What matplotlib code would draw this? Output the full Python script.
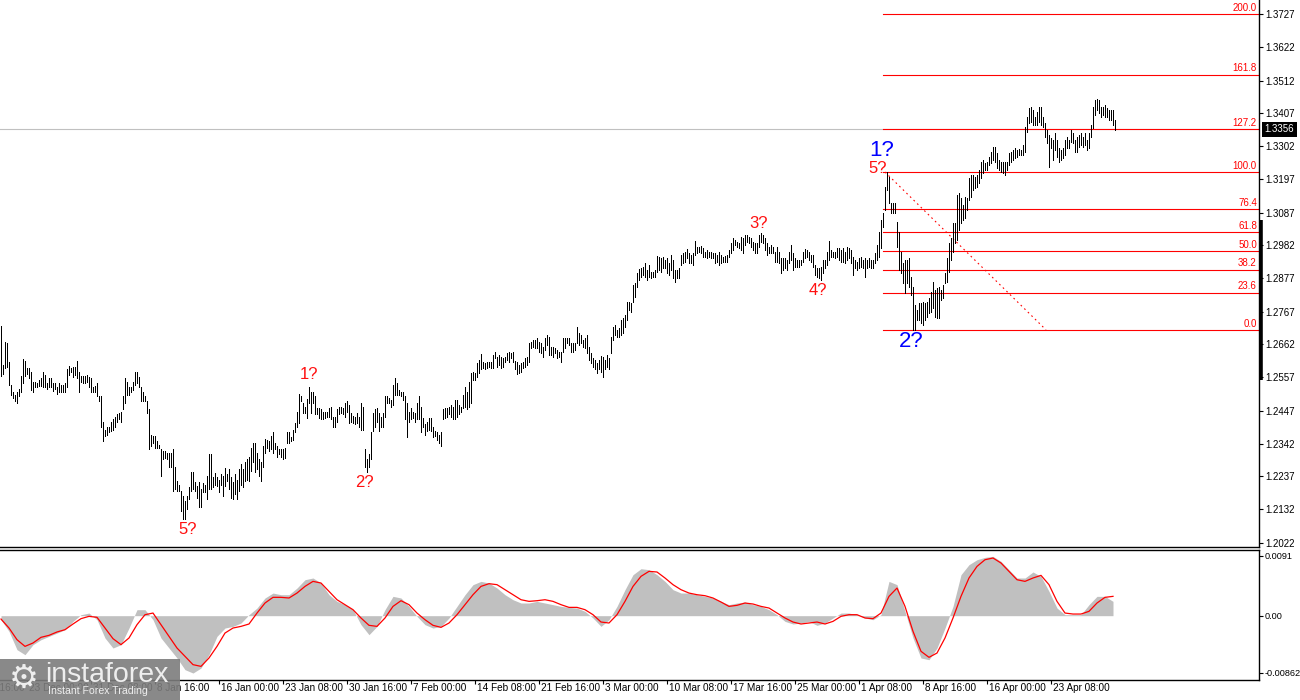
import numpy as np
import matplotlib
matplotlib.use("Agg")
import matplotlib.pyplot as plt
from matplotlib.patches import Rectangle

plt.rcParams['font.family'] = ['Liberation Sans', 'DejaVu Sans']

# ---------------- data: H4 bars (high / low) ----------------
HIGH = [
    1.2722,1.2597,1.2671,1.2668,1.2606,1.2532,1.2507,1.2500,1.2507,1.2519,
    1.2561,1.2616,1.2610,1.2587,1.2587,1.2574,1.2542,1.2542,1.2539,1.2548,
    1.2552,1.2574,1.2564,1.2539,1.2552,1.2552,1.2539,1.2539,1.2526,1.2539,
    1.2532,1.2532,1.2539,1.2581,1.2593,1.2587,1.2590,1.2590,1.2610,1.2574,
    1.2561,1.2561,1.2561,1.2564,1.2558,1.2555,1.2526,1.2529,1.2539,1.2494,
    1.2494,1.2413,1.2387,1.2394,1.2397,1.2413,1.2420,1.2429,1.2436,1.2442,
    1.2445,1.2494,1.2555,1.2542,1.2523,1.2526,1.2542,1.2574,1.2574,1.2558,
    1.2526,1.2507,1.2494,1.2478,1.2452,1.2371,1.2365,1.2365,1.2349,1.2339,
    1.2323,1.2317,1.2317,1.2313,1.2313,1.2313,1.2323,1.2265,1.2220,1.2210,
    1.2188,1.2172,1.2156,1.2172,1.2201,1.2249,1.2249,1.2217,1.2204,1.2217,
    1.2194,1.2214,1.2210,1.2239,1.2307,1.2307,1.2233,1.2246,1.2233,1.2226,
    1.2243,1.2236,1.2262,1.2243,1.2259,1.2233,1.2217,1.2243,1.2226,1.2259,
    1.2275,1.2259,1.2284,1.2291,1.2300,1.2329,1.2345,1.2345,1.2313,1.2291,
    1.2281,1.2333,1.2358,1.2355,1.2349,1.2365,1.2378,1.2345,1.2333,1.2323,
    1.2323,1.2323,1.2329,1.2378,1.2378,1.2362,1.2387,1.2410,1.2445,1.2503,
    1.2494,1.2474,1.2461,1.2487,1.2526,1.2510,1.2507,1.2497,1.2458,1.2458,
    1.2452,1.2445,1.2445,1.2445,1.2458,1.2461,1.2429,1.2429,1.2452,1.2461,
    1.2461,1.2458,1.2474,1.2478,1.2468,1.2442,1.2432,1.2429,1.2442,1.2429,
    1.2474,1.2461,1.2323,1.2291,1.2307,1.2378,1.2442,1.2452,1.2458,1.2442,
    1.2429,1.2442,1.2494,1.2494,1.2490,1.2484,1.2532,1.2552,1.2539,1.2516,
    1.2510,1.2510,1.2494,1.2474,1.2445,1.2458,1.2445,1.2442,1.2474,1.2494,
    1.2461,1.2426,1.2404,1.2413,1.2426,1.2426,1.2394,1.2381,1.2378,1.2371,
    1.2378,1.2452,1.2458,1.2458,1.2461,1.2468,1.2461,1.2484,1.2484,1.2468,
    1.2461,1.2500,1.2523,1.2507,1.2542,1.2571,1.2574,1.2571,1.2603,1.2613,
    1.2632,1.2606,1.2603,1.2606,1.2606,1.2606,1.2629,1.2639,1.2622,1.2629,
    1.2622,1.2619,1.2622,1.2635,1.2639,1.2635,1.2639,1.2610,1.2606,1.2597,
    1.2603,1.2606,1.2619,1.2622,1.2667,1.2671,1.2677,1.2677,1.2684,1.2671,
    1.2667,1.2655,1.2684,1.2693,1.2687,1.2655,1.2655,1.2651,1.2645,1.2639,
    1.2639,1.2684,1.2684,1.2684,1.2684,1.2667,1.2667,1.2667,1.2719,1.2700,
    1.2693,1.2677,1.2684,1.2693,1.2655,1.2635,1.2619,1.2613,1.2603,1.2613,
    1.2626,1.2622,1.2613,1.2629,1.2619,1.2687,1.2719,1.2726,1.2709,1.2716,
    1.2742,1.2748,1.2758,1.2800,1.2800,1.2796,1.2854,1.2861,1.2893,1.2906,
    1.2909,1.2912,1.2925,1.2903,1.2919,1.2896,1.2896,1.2903,1.2948,1.2944,
    1.2941,1.2944,1.2935,1.2941,1.2925,1.2951,1.2935,1.2903,1.2903,1.2909,
    1.2951,1.2957,1.2961,1.2970,1.2957,1.2951,1.2957,1.2996,1.2977,1.2977,
    1.2980,1.2973,1.2961,1.2967,1.2961,1.2961,1.2957,1.2957,1.2951,1.2961,
    1.2951,1.2944,1.2948,1.2951,1.2967,1.2990,1.3006,1.2999,1.2993,1.2990,
    1.3009,1.3006,1.3015,1.3015,1.3009,1.3006,1.2993,1.2990,1.2990,1.3015,
    1.3022,1.3015,1.3006,1.2990,1.2977,1.2983,1.2977,1.2961,1.2977,1.2961,
    1.2941,1.2941,1.2941,1.2935,1.2961,1.2983,1.2957,1.2941,1.2935,1.2935,
    1.2935,1.2961,1.2970,1.2967,1.2961,1.2951,1.2951,1.2919,1.2909,1.2909,
    1.2912,1.2935,1.2935,1.2961,1.2996,1.2967,1.2961,1.2961,1.2973,1.2973,
    1.2967,1.2973,1.2961,1.2977,1.2973,1.2967,1.2944,1.2935,1.2928,1.2941,
    1.2944,1.2935,1.2941,1.2935,1.2941,1.2935,1.2935,1.2957,1.2983,1.3025,
    1.3064,1.3086,1.3170,1.3218,1.3202,1.3118,1.3118,1.3118,1.3057,1.3025,
    1.2961,1.2925,1.2935,1.2935,1.2941,1.2880,1.2848,1.2790,1.2774,1.2796,
    1.2796,1.2800,1.2796,1.2800,1.2812,1.2832,1.2864,1.2838,1.2845,1.2848,
    1.2838,1.2854,1.2893,1.2941,1.2990,1.3006,1.3054,1.3054,1.3144,1.3151,
    1.3134,1.3112,1.3138,1.3134,1.3199,1.3209,1.3209,1.3202,1.3209,1.3225,
    1.3250,1.3257,1.3247,1.3250,1.3266,1.3283,1.3299,1.3299,1.3279,1.3257,
    1.3250,1.3250,1.3250,1.3250,1.3279,1.3283,1.3289,1.3295,1.3289,1.3292,
    1.3289,1.3305,1.3363,1.3395,1.3424,1.3427,1.3418,1.3395,1.3411,1.3427,
    1.3427,1.3395,1.3376,1.3353,1.3337,1.3328,1.3321,1.3344,1.3321,1.3295,
    1.3289,1.3295,1.3321,1.3331,1.3321,1.3353,1.3344,1.3321,1.3331,1.3337,
    1.3344,1.3331,1.3344,1.3321,1.3344,1.3370,1.3427,1.3450,1.3453,1.3450,
    1.3427,1.3427,1.3434,1.3424,1.3418,1.3418,1.3418,1.3386,
]
LOW = [
    1.2561,1.2565,1.2587,1.2590,1.2532,1.2500,1.2490,1.2478,1.2474,1.2494,
    1.2507,1.2539,1.2561,1.2565,1.2555,1.2516,1.2510,1.2523,1.2526,1.2529,
    1.2529,1.2523,1.2526,1.2519,1.2526,1.2526,1.2513,1.2519,1.2503,1.2510,
    1.2510,1.2510,1.2507,1.2526,1.2564,1.2574,1.2558,1.2564,1.2552,1.2507,
    1.2542,1.2539,1.2539,1.2542,1.2523,1.2507,1.2507,1.2507,1.2494,1.2478,
    1.2397,1.2349,1.2365,1.2371,1.2378,1.2381,1.2387,1.2397,1.2413,1.2420,
    1.2413,1.2452,1.2474,1.2500,1.2500,1.2507,1.2516,1.2532,1.2539,1.2526,
    1.2478,1.2478,1.2478,1.2442,1.2323,1.2333,1.2345,1.2329,1.2329,1.2329,
    1.2236,1.2291,1.2297,1.2291,1.2268,1.2265,1.2188,1.2194,1.2188,1.2188,
    1.2123,1.2098,1.2098,1.2130,1.2162,1.2188,1.2194,1.2188,1.2168,1.2136,
    1.2139,1.2185,1.2185,1.2162,1.2194,1.2194,1.2201,1.2210,1.2204,1.2185,
    1.2210,1.2172,1.2204,1.2220,1.2194,1.2168,1.2162,1.2178,1.2162,1.2188,
    1.2210,1.2201,1.2220,1.2226,1.2220,1.2252,1.2281,1.2249,1.2259,1.2236,
    1.2220,1.2268,1.2313,1.2329,1.2317,1.2323,1.2313,1.2323,1.2300,1.2307,
    1.2300,1.2291,1.2297,1.2345,1.2345,1.2349,1.2355,1.2378,1.2397,1.2410,
    1.2478,1.2442,1.2442,1.2426,1.2474,1.2442,1.2474,1.2436,1.2436,1.2426,
    1.2420,1.2420,1.2426,1.2429,1.2429,1.2420,1.2394,1.2397,1.2413,1.2436,
    1.2442,1.2436,1.2429,1.2445,1.2410,1.2413,1.2410,1.2404,1.2410,1.2397,
    1.2387,1.2387,1.2265,1.2249,1.2265,1.2291,1.2381,1.2397,1.2413,1.2381,
    1.2394,1.2397,1.2429,1.2474,1.2474,1.2461,1.2468,1.2500,1.2500,1.2500,
    1.2494,1.2484,1.2420,1.2362,1.2413,1.2420,1.2426,1.2413,1.2420,1.2420,
    1.2378,1.2394,1.2371,1.2381,1.2387,1.2381,1.2362,1.2365,1.2355,1.2345,
    1.2333,1.2420,1.2426,1.2429,1.2436,1.2429,1.2420,1.2420,1.2429,1.2436,
    1.2445,1.2458,1.2461,1.2452,1.2461,1.2474,1.2548,1.2548,1.2558,1.2571,
    1.2581,1.2587,1.2581,1.2587,1.2590,1.2587,1.2587,1.2619,1.2590,1.2597,
    1.2587,1.2590,1.2606,1.2613,1.2606,1.2619,1.2606,1.2581,1.2565,1.2571,
    1.2574,1.2587,1.2590,1.2597,1.2606,1.2651,1.2655,1.2651,1.2651,1.2639,
    1.2635,1.2622,1.2645,1.2661,1.2629,1.2629,1.2622,1.2635,1.2619,1.2622,
    1.2606,1.2639,1.2651,1.2668,1.2661,1.2639,1.2639,1.2645,1.2668,1.2661,
    1.2668,1.2655,1.2651,1.2635,1.2613,1.2603,1.2590,1.2581,1.2571,1.2581,
    1.2574,1.2558,1.2581,1.2590,1.2581,1.2635,1.2677,1.2693,1.2687,1.2687,
    1.2693,1.2700,1.2719,1.2742,1.2774,1.2767,1.2800,1.2816,1.2848,1.2870,
    1.2880,1.2887,1.2880,1.2870,1.2880,1.2877,1.2880,1.2880,1.2896,1.2903,
    1.2896,1.2909,1.2909,1.2893,1.2887,1.2903,1.2877,1.2864,1.2877,1.2877,
    1.2919,1.2925,1.2928,1.2941,1.2925,1.2925,1.2919,1.2951,1.2957,1.2961,
    1.2957,1.2944,1.2944,1.2941,1.2944,1.2941,1.2941,1.2925,1.2928,1.2919,
    1.2925,1.2928,1.2928,1.2928,1.2944,1.2957,1.2967,1.2983,1.2977,1.2973,
    1.2967,1.2957,1.2983,1.2993,1.2990,1.2977,1.2967,1.2957,1.2957,1.2977,
    1.2993,1.2990,1.2967,1.2951,1.2957,1.2957,1.2957,1.2928,1.2928,1.2925,
    1.2893,1.2903,1.2909,1.2903,1.2925,1.2935,1.2903,1.2912,1.2912,1.2912,
    1.2919,1.2928,1.2941,1.2944,1.2935,1.2928,1.2912,1.2887,1.2880,1.2877,
    1.2870,1.2893,1.2909,1.2919,1.2935,1.2944,1.2944,1.2941,1.2944,1.2935,
    1.2928,1.2928,1.2925,1.2935,1.2941,1.2925,1.2887,1.2909,1.2903,1.2909,
    1.2912,1.2909,1.2880,1.2909,1.2912,1.2909,1.2909,1.2925,1.2935,1.2944,
    1.2973,1.3041,1.3096,1.3160,1.3118,1.3086,1.3086,1.3086,1.2977,1.2903,
    1.2893,1.2861,1.2829,1.2861,1.2848,1.2822,1.2709,1.2709,1.2742,1.2742,
    1.2732,1.2726,1.2742,1.2751,1.2764,1.2767,1.2780,1.2751,1.2748,1.2748,
    1.2806,1.2812,1.2861,1.2864,1.2896,1.2935,1.2961,1.2990,1.2999,1.3031,
    1.3054,1.3064,1.3070,1.3096,1.3128,1.3138,1.3160,1.3167,1.3170,1.3183,
    1.3199,1.3215,1.3225,1.3225,1.3241,1.3247,1.3257,1.3250,1.3231,1.3225,
    1.3218,1.3215,1.3209,1.3225,1.3241,1.3250,1.3257,1.3263,1.3266,1.3273,
    1.3273,1.3273,1.3283,1.3347,1.3376,1.3379,1.3370,1.3370,1.3370,1.3379,
    1.3370,1.3363,1.3331,1.3312,1.3234,1.3295,1.3257,1.3289,1.3266,1.3250,
    1.3257,1.3263,1.3273,1.3295,1.3295,1.3315,1.3312,1.3283,1.3283,1.3299,
    1.3305,1.3299,1.3305,1.3289,1.3295,1.3331,1.3360,1.3402,1.3418,1.3408,
    1.3395,1.3402,1.3395,1.3395,1.3386,1.3386,1.3370,1.3353,
]

# ---------------- data: MACD (one value every 4 bars) ----------------
MACD_STEP = 4
MACD_HIST = [
    -0.00061,-0.00237,-0.00515,-0.00591,-0.00439,-0.00364,-0.00313,-0.00263,-0.00212,-0.00086,
    0.00015,0.00040,-0.00061,-0.00338,-0.00490,-0.00439,-0.00187,0.00091,0.00091,-0.00061,
    -0.00338,-0.00490,-0.00641,-0.00818,-0.00869,-0.00793,-0.00591,-0.00313,-0.00187,-0.00162,
    -0.00111,0.00015,0.00116,0.00268,0.00343,0.00318,0.00318,0.00419,0.00545,0.00571,
    0.00495,0.00318,0.00217,0.00167,0.00091,-0.00136,-0.00288,-0.00162,0.00091,0.00293,
    0.00268,0.00141,-0.00010,-0.00136,-0.00187,-0.00162,-0.00035,0.00141,0.00318,0.00470,
    0.00520,0.00495,0.00419,0.00318,0.00242,0.00192,0.00192,0.00217,0.00192,0.00167,
    0.00141,0.00126,0.00116,0.00066,-0.00035,-0.00162,-0.00061,0.00141,0.00394,0.00621,
    0.00712,0.00697,0.00621,0.00520,0.00394,0.00343,0.00343,0.00318,0.00293,0.00268,
    0.00217,0.00167,0.00192,0.00207,0.00167,0.00141,0.00091,0.00015,-0.00086,-0.00126,
    -0.00111,-0.00086,-0.00146,-0.00111,-0.00035,0.00040,0.00040,0.00015,-0.00035,-0.00061,
    0.00015,0.00520,0.00470,0.00066,-0.00338,-0.00641,-0.00667,-0.00490,-0.00187,0.00141,
    0.00621,0.00773,0.00848,0.00884,0.00899,0.00823,0.00697,0.00571,0.00571,0.00662,
    0.00596,0.00369,0.00116,0.00015,0.00015,0.00015,0.00167,0.00293,0.00293,0.00217,
]
MACD_SIGNAL = [
    -0.00051,-0.00187,-0.00364,-0.00465,-0.00414,-0.00328,-0.00298,-0.00247,-0.00212,-0.00126,
    -0.00045,-0.00010,-0.00025,-0.00187,-0.00348,-0.00439,-0.00338,-0.00136,0.00015,0.00040,
    -0.00136,-0.00313,-0.00490,-0.00616,-0.00742,-0.00768,-0.00641,-0.00465,-0.00263,-0.00187,
    -0.00162,-0.00126,0.00040,0.00192,0.00278,0.00278,0.00268,0.00343,0.00444,0.00520,
    0.00495,0.00369,0.00242,0.00167,0.00091,-0.00035,-0.00146,-0.00162,-0.00035,0.00141,
    0.00227,0.00167,0.00040,-0.00061,-0.00146,-0.00177,-0.00111,0.00015,0.00167,0.00318,
    0.00444,0.00485,0.00470,0.00394,0.00318,0.00242,0.00217,0.00227,0.00242,0.00217,
    0.00167,0.00126,0.00126,0.00091,0.00015,-0.00096,-0.00111,0.00015,0.00217,0.00444,
    0.00596,0.00672,0.00662,0.00571,0.00470,0.00394,0.00343,0.00318,0.00303,0.00268,
    0.00207,0.00141,0.00157,0.00192,0.00177,0.00141,0.00116,0.00040,-0.00035,-0.00096,
    -0.00126,-0.00111,-0.00096,-0.00126,-0.00086,-0.00010,0.00015,0.00015,-0.00035,-0.00045,
    0.00040,0.00293,0.00419,0.00141,-0.00237,-0.00540,-0.00631,-0.00566,-0.00338,-0.00035,
    0.00293,0.00571,0.00747,0.00848,0.00874,0.00798,0.00672,0.00545,0.00520,0.00571,
    0.00611,0.00470,0.00217,0.00040,0.00025,0.00025,0.00066,0.00192,0.00278,0.00293,
]

CURRENT_PRICE = 1.3356
PRICE_TICKS = [1.3727, 1.3622, 1.3512, 1.3407, 1.3302, 1.3197, 1.3087, 1.2982, 1.2877,
               1.2767, 1.2662, 1.2557, 1.2447, 1.2342, 1.2237, 1.2132, 1.2022]
PRICE_TICK_LABELS = ["1.3727", "1.3622", "1.3512", "1.3407", "1.3302", "1.3197", "1.3087",
                     "1.2982", "1.2877", "1.2767", "1.2662", "1.2557", "1.2447", "1.2342",
                     "1.2237", "1.2132", "1.2022"]
MACD_TICKS = [0.0091, 0.0, -0.00862]
MACD_TICK_LABELS = ["0.0091", "0.00", "-0.00862"]

FIB_LEVELS = [0.0, 23.6, 38.2, 50.0, 61.8, 76.4, 100.0, 127.2, 161.8, 200.0]
FIB_LABELS = ["0.0", "23.6", "38.2", "50.0", "61.8", "76.4", "100.0", "127.2", "161.8", "200.0"]
FIB_START_BAR = 441
FIB_HIGH_BAR = 443
FIB_LOW_BAR = 456
FIB_DIAG_END_BAR = 522.5
SCALE_MARK = (1.2547, 1.3063)

TIME_LABELS = ["15 Dec 16:00", "23 Dec 00:00", "31 Dec 08:00", "8 Jan 16:00", "16 Jan 00:00",
               "23 Jan 08:00", "30 Jan 16:00", "7 Feb 00:00", "14 Feb 08:00", "21 Feb 16:00",
               "3 Mar 00:00", "10 Mar 08:00", "17 Mar 16:00", "25 Mar 00:00", "1 Apr 08:00",
               "8 Apr 16:00", "16 Apr 00:00", "23 Apr 08:00"]
TIME_TICK_BARS = [-19, 13, 45, 77, 109, 141, 173, 205, 237, 269, 301, 333, 365, 397, 429,
                  461, 493, 525]

WAVE_TEXT = ["5?", "1?", "2?", "3?", "4?", "5?", "1?", "2?"]
WAVE_BAR = [92, 154, 183, 380, 410, 443, 443, 456]
WAVE_SIDE = ["low", "high", "low", "high", "low", "high", "high", "low"]

# ---------------- figure ----------------
W, H = 1300, 700
fig = plt.figure(figsize=(13, 7), dpi=100)
fig.patch.set_facecolor('white')


def fx(px):
    return px / W


def fy(py):
    return 1 - py / H


ax = fig.add_axes([0, fy(546.5), fx(1259), fy(0) - fy(546.5)])
ax2 = fig.add_axes([0, fy(679.5), fx(1259), fy(549.5) - fy(679.5)])

XMAX = 629.0
x = np.arange(len(HIGH))
ax.vlines(x, LOW, HIGH, colors='black', linewidth=0.55, antialiased=False, zorder=3)
ax.set_xlim(-0.5, XMAX)
ax.set_ylim(1.2010, 1.3773)

# current price line
ax.axhline(CURRENT_PRICE, color='#C0C0C0', lw=0.8, zorder=1)

# Fibonacci levels
fib_hi = HIGH[FIB_HIGH_BAR]
fib_lo = LOW[FIB_LOW_BAR]
rng = fib_hi - fib_lo
for lvl, lab in zip(FIB_LEVELS, FIB_LABELS):
    p = fib_lo + rng * lvl / 100.0
    ax.plot([FIB_START_BAR, XMAX], [p, p], color='#FF0000', lw=0.8, zorder=2)
    ax.annotate(lab, xy=(1, p), xycoords=('axes fraction', 'data'), xytext=(-1.5, 0.8),
                textcoords='offset points', ha='right', va='bottom', color='#FF0000',
                fontsize=7.0, annotation_clip=False)
ax.plot([FIB_HIGH_BAR - 1, FIB_DIAG_END_BAR], [fib_hi, fib_lo], color='#FF0000', lw=0.8,
        linestyle=(0, (1.5, 3)), zorder=2)

# wave labels
wave_style = [
    ('#FF1010', 12, (2, -2)), ('#FF1010', 12, (0, 3)), ('#FF1010', 12, (-2, -2)),
    ('#FF1010', 12, (-2, 1)), ('#FF1010', 12, (-2, -2)), ('#FF1010', 12, (-7, -2.5)),
    ('#0000FF', 16, (-4, 8)), ('#0000FF', 16, (-1, -1)),
]
for txt, b, side, (col, fs, off) in zip(WAVE_TEXT, WAVE_BAR, WAVE_SIDE, wave_style):
    yv = LOW[b] if side == 'low' else HIGH[b]
    ax.annotate(txt, xy=(b, yv), xytext=off, textcoords='offset points', ha='center',
                va='top' if side == 'low' else 'bottom', color=col, fontsize=fs, zorder=5)

# axes styling (main)
for s in ['top', 'left']:
    ax.spines[s].set_visible(False)
ax.spines['right'].set_linewidth(1.0)
ax.spines['bottom'].set_linewidth(1.0)
ax.yaxis.tick_right()
ax.set_yticks(PRICE_TICKS)
ax.set_yticklabels(PRICE_TICK_LABELS)
ax.set_xticks([])
ax.tick_params(axis='y', length=3, width=0.8, pad=1.5, labelsize=7.0, direction='out',
               colors='black')

# price box on scale
ax.annotate(f"{CURRENT_PRICE:.4f}", xy=(1, CURRENT_PRICE), xycoords=('axes fraction', 'data'),
            xytext=(4.0, 0), textcoords='offset points', ha='left', va='center',
            color='white', fontsize=7.0,
            bbox=dict(boxstyle='square,pad=0.25', fc='black', ec='none'),
            annotation_clip=False, zorder=10)
ax.plot([1.0012, 1.0012], list(SCALE_MARK), transform=ax.get_yaxis_transform(),
        color='black', lw=2.6, clip_on=False, solid_capstyle='butt')

# ---------------- MACD ----------------
mx = np.arange(len(MACD_HIST)) * MACD_STEP
ax2.fill_between(mx, 0, MACD_HIST, color='#C0C0C0', linewidth=0, zorder=2)
ax2.plot(mx, MACD_SIGNAL, color='#FF0000', lw=0.9, zorder=3)
ax2.set_xlim(-0.5, XMAX)
ax2.set_ylim(-0.00967, 0.01003)
ax2.spines['left'].set_visible(False)
for s in ['top', 'right', 'bottom']:
    ax2.spines[s].set_linewidth(1.0)
ax2.yaxis.tick_right()
ax2.set_yticks(MACD_TICKS)
ax2.set_yticklabels(MACD_TICK_LABELS)
ax2.tick_params(axis='y', length=3, width=0.8, pad=1.0, labelsize=6.6, direction='out')
ax2.set_xticks([b for b in TIME_TICK_BARS if b >= 0])
ax2.set_xticklabels([])
ax2.tick_params(axis='x', length=3, width=0.8, direction='out')
for b, lab in zip(TIME_TICK_BARS, TIME_LABELS):
    ax2.annotate(lab, xy=(b, 0), xycoords=('data', 'axes fraction'), xytext=(1.5, -2.5),
                 textcoords='offset points', ha='left', va='top', fontsize=7.2,
                 annotation_clip=False)

# ---------------- logo ----------------
fig.add_artist(Rectangle((0, 0), fx(180), fy(659), transform=fig.transFigure,
                         facecolor='#7c7c7c', alpha=0.9, edgecolor='none', zorder=20))
fig.text(fx(24), fy(678), '\u2699', color='#eeeeee', fontsize=24, ha='center', va='center',
         family='DejaVu Sans', zorder=21)
fig.text(fx(45), fy(675), 'instaforex', color='#eeeeee', fontsize=20.5, ha='left',
         va='center', zorder=21)
fig.text(fx(48), fy(691), 'Instant Forex Trading', color='#eeeeee', fontsize=7.6,
         ha='left', va='center', zorder=21)

fig.savefig('out.png', dpi=100)
